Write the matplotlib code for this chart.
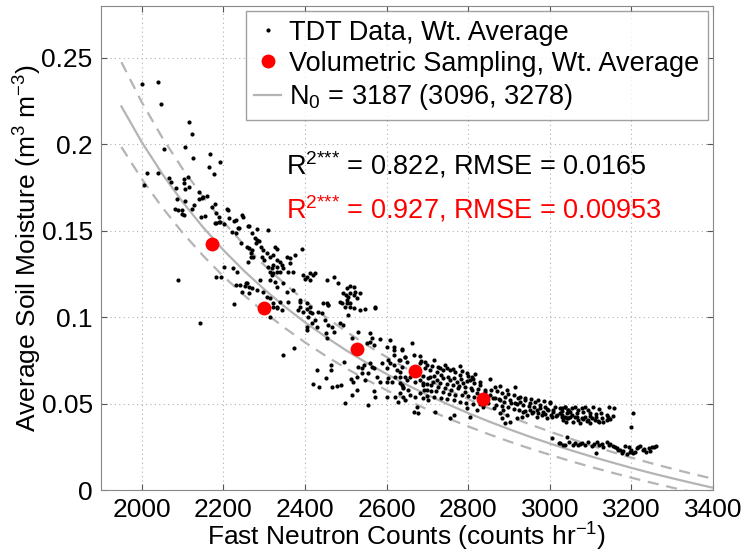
import matplotlib
matplotlib.use("Agg")
import matplotlib.pyplot as plt
import numpy as np
from matplotlib.ticker import FuncFormatter

plt.rcParams["font.family"] = ["Liberation Sans", "DejaVu Sans"]
plt.rcParams["mathtext.fontset"] = "custom"
plt.rcParams["mathtext.rm"] = "Liberation Sans"
plt.rcParams["mathtext.it"] = "Liberation Sans"

# TDT weighted-average data (counts hr-1, m3 m-3)
tdt_counts = [
    2000, 2039, 2047, 2116, 2122, 2055, 2106, 2126, 2168, 2192, 2165, 2176, 2013, 2040,
    2006, 2067, 2072, 2103, 2103, 2085, 2106, 2116, 2114, 2141, 2147, 2139, 2149, 2160,
    2086, 2106, 2129, 2124, 2179, 2173, 2081, 2089, 2099, 2098, 2104, 2144, 2155, 2183,
    2188, 2210, 2214, 2230, 2245, 2247, 2183, 2192, 2202, 2236, 2263,
    2180, 2188, 2212, 2226, 2237, 2220, 2230, 2242, 2261, 2269, 2263, 2267, 2261, 2268,
    2202, 2224, 2233, 2182, 2193, 2088, 2231, 2241, 2255, 2263, 2263, 2226, 2142,
    2282, 2310, 2278, 2283, 2287, 2280, 2257, 2269, 2291, 2298, 2306, 2272, 2294, 2300,
    2314, 2322, 2331, 2339, 2327, 2331, 2355, 2363, 2392, 2376, 2310, 2318, 2322, 2331,
    2343, 2347, 2363, 2314, 2322, 2331, 2339, 2318, 2359, 2371, 2290, 2257, 2253, 2269,
    2282, 2314, 2327, 2331, 2396, 2404, 2412, 2420, 2425, 2400, 2412, 2298, 2306, 2314,
    2347, 2355, 2371, 2245, 2453, 2470, 2482, 2502, 2510, 2519, 2494, 2501, 2506, 2510,
    2523, 2519, 2527, 2535, 2502, 2510, 2490, 2498, 2445, 2457, 2388, 2404, 2412, 2322,
    2331, 2572,
    2322, 2331, 2343, 2359, 2384, 2388, 2396, 2404, 2412, 2416, 2433, 2408, 2416, 2404,
    2404, 2425, 2441, 2453, 2457, 2486, 2502, 2510, 2506, 2519, 2535, 2547, 2572, 2388,
    2339, 2429, 2449, 2457, 2465, 2470, 2486, 2494, 2452, 2455, 2314, 2345, 2373, 2429,
    2463, 2463, 2452, 2419, 2434, 2466, 2478, 2487, 2496, 2512, 2517, 2528, 2531, 2539,
    2547, 2527, 2516, 2499, 2555, 2531, 2514, 2559, 2563, 2559, 2551, 2568, 2584, 2602,
    2608, 2617, 2619, 2637, 2617, 2631, 2644, 2604, 2608, 2617, 2600, 2625, 2633, 2621,
    2612, 2600, 2604, 2645, 2649, 2637, 2641, 2633, 2621, 2629, 2600, 2568, 2572, 2584,
    2576, 2563, 2568, 2559, 2545, 2539, 2588, 2555,
    2663, 2637, 2666, 2682, 2645, 2649, 2715, 2743, 2780, 2694, 2706, 2723, 2731, 2739,
    2755, 2768, 2780, 2796, 2809, 2817, 2829, 2853, 2866, 2878, 2894, 2915, 2923, 2706,
    2723, 2739, 2755, 2772, 2788, 2804, 2710, 2727, 2743, 2759, 2776, 2792, 2809, 2821,
    2841, 2853, 2866, 2878, 2890, 2902, 2915, 2927, 2939, 2951, 2964, 2976, 2988, 3000,
    3013, 3025, 3037, 3045, 2653, 2657, 2670, 2682, 2690, 2702, 2674, 2666, 2678, 2719,
    2755, 2764, 2804, 2796, 2821, 2837, 2849, 2862, 2878, 2886, 2894, 2882, 2890, 2902,
    2919, 2931, 2943, 2956, 2968, 2980, 2992, 3005, 3017, 3029, 3041, 2935, 2951, 2968,
    2984, 2996, 3009, 3025, 3005, 3023, 3033, 2633, 2633, 2633, 2641, 2639, 2645, 2657,
    2670, 2682, 2690, 2698, 2637, 2674, 2682, 2694,
    3029, 3037, 3045, 3054, 3062, 3070, 3078, 3086, 3094, 3107, 3121, 3146, 3157, 3029,
    3037, 3045, 3054, 3062, 3070, 3078, 3086, 3094, 3103, 3111, 3119, 3131, 3139, 3148,
    3074, 3033, 3058, 3099, 3205, 3199, 3025, 3037, 3041, 3062, 3074, 3086, 3094, 3103,
    3115, 3127, 3131, 3139, 3148, 3156, 3164, 3172, 3176, 3184, 3193, 3197, 3205, 3213,
    3221, 3229, 3236, 3242, 3250, 3260, 3113, 3188,
    # denser part of the band, 2680-3260
    2685, 2698, 2712, 2727, 2748, 2762, 2785, 2800, 2812, 2690, 2702, 2716, 2734, 2750,
    2766, 2782, 2797, 2815, 2830, 2688, 2700, 2714, 2731, 2747, 2762, 2778, 2793, 2808,
    2825, 2840, 2692, 2708, 2722, 2737, 2752, 2768, 2785, 2800, 2815, 2700, 2716, 2733,
    2748, 2764, 2780, 2795, 2812, 2828,
    2855, 2870, 2884, 2898, 2912, 2926, 2940, 2955, 2970, 2985, 3000, 2860, 2875, 2888,
    2905, 2920, 2935, 2948, 2962, 2977, 2992, 3008, 2868, 2882, 2897, 2912, 2925, 2940,
    2958, 2972, 2988, 3002, 3016,
    3030, 3042, 3050, 3066, 3082, 3098, 3112, 3126, 3140, 3050, 3066, 3082, 3098, 3112,
    3128, 3142, 3155, 3040, 3090, 3120,
    3048, 3056, 3068, 3080, 3108, 3120, 3144, 3160, 3168, 3180, 3200, 3208, 3216, 3232,
    3246, 3255,
]
tdt_theta = [
    0.2346, 0.2362, 0.2231, 0.2128, 0.2059, 0.1972, 0.1982, 0.1918, 0.1945, 0.1899, 0.1866, 0.1826, 0.1833, 0.1835,
    0.1764, 0.1806, 0.1783, 0.1797, 0.1774, 0.1745, 0.1741, 0.1754, 0.1809, 0.1722, 0.1689, 0.1681, 0.1693, 0.1700,
    0.1681, 0.1673, 0.1650, 0.1627, 0.1654, 0.1635, 0.1625, 0.1621, 0.1619, 0.1595, 0.1591, 0.1581, 0.1585, 0.1600,
    0.1581, 0.1623, 0.1573, 0.1562, 0.1591, 0.1581, 0.1546, 0.1552, 0.1538, 0.1517, 0.1529,
    0.1542, 0.1548, 0.1619, 0.1558, 0.1513, 0.1490, 0.1485, 0.1427, 0.1527, 0.1488, 0.1398, 0.1373, 0.1320, 0.1346,
    0.1292, 0.1282, 0.1263, 0.1234, 0.1232, 0.1215, 0.1186, 0.1184, 0.1199, 0.1176, 0.1138, 0.1076, 0.0964,
    0.1510, 0.1504, 0.1455, 0.1446, 0.1440, 0.1426, 0.1403, 0.1388, 0.1403, 0.1388, 0.1372, 0.1349, 0.1349, 0.1330,
    0.1349, 0.1359, 0.1330, 0.1320, 0.1407, 0.1397, 0.1349, 0.1340, 0.1392, 0.1359, 0.1291, 0.1282, 0.1301, 0.1291,
    0.1301, 0.1282, 0.1311, 0.1262, 0.1253, 0.1262, 0.1262, 0.1243, 0.1262, 0.1262, 0.1214, 0.1195, 0.1180, 0.1166,
    0.1156, 0.1214, 0.1205, 0.1176, 0.1243, 0.1234, 0.1253, 0.1243, 0.1257, 0.1218, 0.1214, 0.1147, 0.1118, 0.1108,
    0.1195, 0.1147, 0.1156, 0.1147, 0.1214, 0.1234, 0.1195, 0.1166, 0.1180, 0.1176, 0.1137, 0.1127, 0.1118, 0.1141,
    0.1147, 0.1127, 0.1108, 0.1137, 0.1099, 0.1079, 0.1079, 0.1060, 0.1079, 0.1070, 0.1099, 0.1079, 0.1060, 0.1079,
    0.1060, 0.1050,
    0.1060, 0.1051, 0.1041, 0.1089, 0.1041, 0.1060, 0.1032, 0.1045, 0.1032, 0.1022, 0.1032, 0.1003, 0.0964, 0.0945,
    0.0926, 0.0983, 0.1022, 0.1080, 0.1070, 0.1089, 0.1080, 0.1060, 0.1012, 0.1051, 0.1041, 0.1045, 0.1057, 0.1089,
    0.1089, 0.0945, 0.0983, 0.0954, 0.0945, 0.0916, 0.0964, 0.0954, 0.0906, 0.0881, 0.1003, 0.0781, 0.0819, 0.0694,
    0.0723, 0.0694, 0.0646, 0.0613, 0.0598, 0.0594, 0.0602, 0.0607, 0.0742, 0.0640, 0.0627, 0.0656, 0.0713, 0.0675,
    0.0636, 0.0578, 0.0549, 0.0505, 0.0492, 0.0916, 0.0877, 0.0906, 0.0877, 0.0858, 0.0848, 0.0839, 0.0872, 0.0829,
    0.0868, 0.0829, 0.0810, 0.0810, 0.0781, 0.0752, 0.0767, 0.0752, 0.0733, 0.0723, 0.0704, 0.0694, 0.0684, 0.0656,
    0.0627, 0.0627, 0.0646, 0.0656, 0.0636, 0.0607, 0.0588, 0.0559, 0.0540, 0.0511, 0.0540, 0.0575, 0.0540, 0.0627,
    0.0656, 0.0713, 0.0704, 0.0733, 0.0723, 0.0704, 0.0733, 0.0679,
    0.0848, 0.0814, 0.0781, 0.0777, 0.0771, 0.0742, 0.0752, 0.0723, 0.0717, 0.0704, 0.0694, 0.0684, 0.0704, 0.0694,
    0.0694, 0.0684, 0.0665, 0.0675, 0.0656, 0.0671, 0.0627, 0.0642, 0.0598, 0.0602, 0.0578, 0.0594, 0.0530, 0.0656,
    0.0636, 0.0646, 0.0636, 0.0627, 0.0617, 0.0636, 0.0607, 0.0598, 0.0588, 0.0578, 0.0588, 0.0569, 0.0578, 0.0559,
    0.0569, 0.0550, 0.0530, 0.0521, 0.0540, 0.0521, 0.0501, 0.0511, 0.0521, 0.0501, 0.0511, 0.0492, 0.0482, 0.0501,
    0.0482, 0.0472, 0.0482, 0.0463, 0.0578, 0.0549, 0.0540, 0.0559, 0.0530, 0.0521, 0.0482, 0.0453, 0.0443, 0.0453,
    0.0415, 0.0434, 0.0420, 0.0472, 0.0463, 0.0482, 0.0501, 0.0472, 0.0443, 0.0463, 0.0434, 0.0415, 0.0386, 0.0395,
    0.0415, 0.0424, 0.0434, 0.0443, 0.0424, 0.0434, 0.0415, 0.0424, 0.0434, 0.0424, 0.0415, 0.0453, 0.0463, 0.0463,
    0.0453, 0.0463, 0.0453, 0.0447, 0.0299, 0.0274, 0.0260, 0.0752, 0.0656, 0.0617, 0.0598, 0.0540, 0.0521, 0.0656,
    0.0627, 0.0636, 0.0607, 0.0578, 0.0713, 0.0684, 0.0733, 0.0742,
    0.0473, 0.0482, 0.0463, 0.0473, 0.0482, 0.0463, 0.0473, 0.0482, 0.0463, 0.0482, 0.0469, 0.0482, 0.0473, 0.0434,
    0.0425, 0.0415, 0.0434, 0.0425, 0.0405, 0.0415, 0.0425, 0.0405, 0.0415, 0.0405, 0.0401, 0.0396, 0.0405, 0.0411,
    0.0390, 0.0405, 0.0396, 0.0386, 0.0448, 0.0363, 0.0270, 0.0261, 0.0309, 0.0270, 0.0266, 0.0261, 0.0280, 0.0255,
    0.0280, 0.0266, 0.0251, 0.0280, 0.0266, 0.0255, 0.0241, 0.0232, 0.0212, 0.0255, 0.0247, 0.0222, 0.0216, 0.0241,
    0.0255, 0.0232, 0.0222, 0.0241, 0.0247, 0.0255, 0.0216, 0.0209,
    0.0745, 0.0725, 0.0715, 0.0712, 0.0705, 0.0698, 0.0690, 0.0660, 0.0640, 0.0660, 0.0648, 0.0662, 0.0668, 0.0655,
    0.0650, 0.0645, 0.0630, 0.0620, 0.0605, 0.0620, 0.0615, 0.0625, 0.0618, 0.0612, 0.0605, 0.0600, 0.0595, 0.0590,
    0.0585, 0.0580, 0.0580, 0.0572, 0.0570, 0.0565, 0.0558, 0.0552, 0.0548, 0.0545, 0.0540, 0.0545, 0.0540, 0.0535,
    0.0528, 0.0520, 0.0512, 0.0505, 0.0500, 0.0495,
    0.0578, 0.0570, 0.0560, 0.0555, 0.0548, 0.0540, 0.0535, 0.0528, 0.0520, 0.0515, 0.0510, 0.0530, 0.0525, 0.0512,
    0.0505, 0.0495, 0.0490, 0.0485, 0.0480, 0.0475, 0.0470, 0.0465, 0.0490, 0.0485, 0.0478, 0.0470, 0.0462, 0.0458,
    0.0452, 0.0445, 0.0440, 0.0436, 0.0430,
    0.0455, 0.0448, 0.0452, 0.0445, 0.0450, 0.0445, 0.0440, 0.0446, 0.0435, 0.0425, 0.0420, 0.0412, 0.0428, 0.0420,
    0.0415, 0.0422, 0.0430, 0.0395, 0.0398, 0.0392,
    0.0275, 0.0262, 0.0258, 0.0272, 0.0268, 0.0258, 0.0258, 0.0250, 0.0233, 0.0225, 0.0232, 0.0222, 0.0250, 0.0240,
    0.0228, 0.0250,
]

# volumetric sampling, weighted average
vol_counts = [2171, 2300, 2528, 2670, 2836]
vol_theta = [0.1423, 0.1051, 0.0814, 0.0688, 0.0526]

# calibration curve for N0 = 3187 and its bounds (3096, 3278), read at 50-count steps
curve_counts = [
    1950, 2000, 2050, 2100, 2150, 2200, 2250, 2300, 2350, 2400, 2450, 2500, 2550, 2600, 2650,
    2700, 2750, 2800, 2850, 2900, 2950, 3000, 3050, 3100, 3150, 3200, 3250, 3300, 3350, 3400,
]
theta_n0 = [
    0.2219, 0.2012, 0.1829, 0.1666, 0.1520, 0.1388, 0.1269, 0.1161, 0.1061, 0.0970, 0.0887, 0.0809, 0.0737, 0.0671, 0.0608,
    0.0550, 0.0496, 0.0445, 0.0397, 0.0352, 0.0309, 0.0269, 0.0231, 0.0195, 0.0161, 0.0128, 0.0097, 0.0068, 0.0040, 0.0013,
]
theta_n0_hi = [
    0.2475, 0.2243, 0.2039, 0.1858, 0.1696, 0.1551, 0.1420, 0.1301, 0.1193, 0.1094, 0.1002, 0.0918, 0.0841, 0.0769, 0.0701,
    0.0639, 0.0580, 0.0526, 0.0474, 0.0426, 0.0381, 0.0338, 0.0297, 0.0258, 0.0222, 0.0187, 0.0154, 0.0123, 0.0093, 0.0065,
]
theta_n0_lo = [
    0.1984, 0.1799, 0.1635, 0.1488, 0.1356, 0.1236, 0.1128, 0.1029, 0.0938, 0.0854, 0.0777, 0.0705, 0.0639, 0.0577, 0.0520,
    0.0466, 0.0415, 0.0368, 0.0323, 0.0281, 0.0241, 0.0204, 0.0168, 0.0134, 0.0102, 0.0071, 0.0042, 0.0014, -0.0012, -0.0037,
]

x_ticks = [2000, 2200, 2400, 2600, 2800, 3000, 3200, 3400]
y_ticks = [0, 0.05, 0.1, 0.15, 0.2, 0.25]

fig = plt.figure(figsize=(7.46, 5.53), dpi=100)
ax = fig.add_axes([0.1354, 0.1139, 0.8204, 0.8753])

gray = "#b4b4b4"
ax.plot(tdt_counts, tdt_theta, "o", color="k", ms=3.0, mew=0, label="TDT Data, Wt. Average", zorder=3)
ax.plot(curve_counts, theta_n0, "-", color=gray, lw=1.6, label="N$_0$ = 3187 (3096, 3278)", zorder=2)
ax.plot(curve_counts, theta_n0_hi, "--", color=gray, lw=1.6, dashes=(5, 3.5), zorder=2)
ax.plot(curve_counts, theta_n0_lo, "--", color=gray, lw=1.6, dashes=(5, 3.5), zorder=2)
ax.plot(vol_counts, vol_theta, "o", color="red", ms=10, mew=0,
        label="Volumetric Sampling, Wt. Average", zorder=4)

ax.set_xlim(1900, 3400)
ax.set_ylim(0, 0.28)
ax.set_xticks(x_ticks)
ax.set_yticks(y_ticks)
ax.yaxis.set_major_formatter(FuncFormatter(lambda v, p: f"{v:g}"))
ax.tick_params(direction="in", length=4, labelsize=19, top=True, right=True,
               color="#555555", pad=6)
ax.grid(True, linestyle=(0, (1, 3)), color="#b0b0b0", lw=0.8)
for s in ax.spines.values():
    s.set_color("#888888")

ax.set_xlabel("Fast Neutron Counts (counts hr$^{-1}$)", fontsize=19, labelpad=-1)
ax.set_ylabel("Average Soil Moisture (m$^3$ m$^{-3}$)", fontsize=19, labelpad=-2)

ax.text(2353, 0.1828, r"R$^{\text{2***}}$ = 0.822, RMSE = 0.0165", fontsize=19.5, color="k", va="baseline")
ax.text(2353, 0.157, r"R$^{\text{2***}}$ = 0.927, RMSE = 0.00953", fontsize=19.5, color="red", va="baseline")

handles, labels = ax.get_legend_handles_labels()
order = [0, 2, 1]
leg = ax.legend([handles[i] for i in order], [labels[i] for i in order], loc="upper right",
                fontsize=19.5, frameon=True, fancybox=False, borderaxespad=0.2,
                handlelength=1.0, handletextpad=0.3, labelspacing=0.2, borderpad=0.3,
                markerscale=1.0)
leg.get_frame().set_edgecolor("#888888")
leg.get_frame().set_linewidth(1.0)

fig.savefig("out.png", dpi=100)
